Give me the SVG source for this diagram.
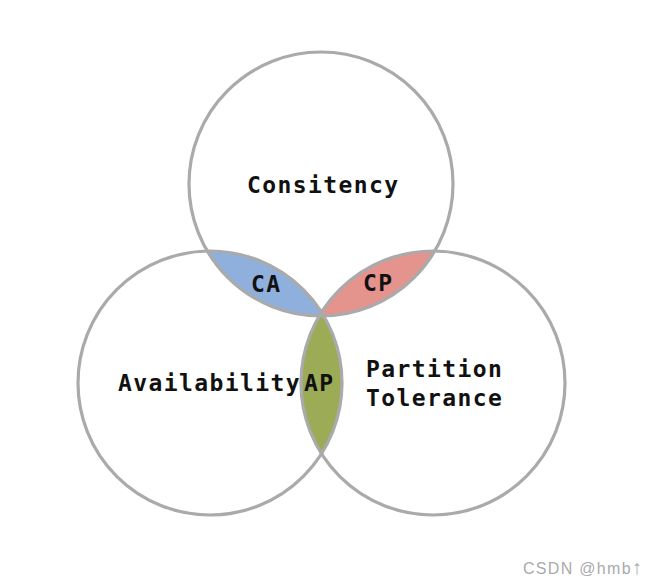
<svg xmlns="http://www.w3.org/2000/svg" width="663" height="584" viewBox="0 0 663 584">
<style>
.ring{fill:none;stroke:#aaaaaa;stroke-width:3.2}
.lbl{font-family:"DejaVu Sans Mono","Liberation Mono",monospace;font-weight:bold;font-size:23px;letter-spacing:1.4px;fill:#111}
.wm{font-family:"Liberation Sans",Arial,sans-serif;font-size:16px;letter-spacing:1.3px;fill:#aaaaaa}
</style>
<rect width="663" height="584" fill="#ffffff"/>
<g id="lenses">
<path id="lens-ca" d="M207.4,251.1 A132,132 0 0 0 323.6,315.9 A132,132 0 0 0 207.4,251.1 Z" fill="#8fb0dc"/>
<path id="lens-cp" d="M319.3,316 A132,132 0 0 0 434.7,251 A132,132 0 0 0 319.3,316 Z" fill="#e5948d"/>
<path id="lens-ap" d="M321.5,312.3 A132,132 0 0 1 321.5,453.7 A132,132 0 0 1 321.5,312.3 Z" fill="#9bab56"/>
</g>
<g id="consistency"><circle class="ring" cx="321" cy="184" r="132"/><text class="lbl" x="247" y="193">Consitency</text></g>
<g id="availability"><circle class="ring" cx="210" cy="383" r="132"/><text class="lbl" x="118" y="391">Availability</text></g>
<g id="partition"><circle class="ring" cx="433" cy="383" r="132"/><text class="lbl" x="366" y="377">Partition</text><text class="lbl" x="366" y="406">Tolerance</text></g>
<g id="ca"><text class="lbl" x="251" y="292">CA</text></g>
<g id="cp"><text class="lbl" x="363" y="291">CP</text></g>
<g id="ap"><text class="lbl" x="304" y="391">AP</text></g>
<g id="connectors"/>
<text class="wm" x="523" y="574">CSDN @hmb<tspan font-size="20px">↑</tspan></text>
</svg>
